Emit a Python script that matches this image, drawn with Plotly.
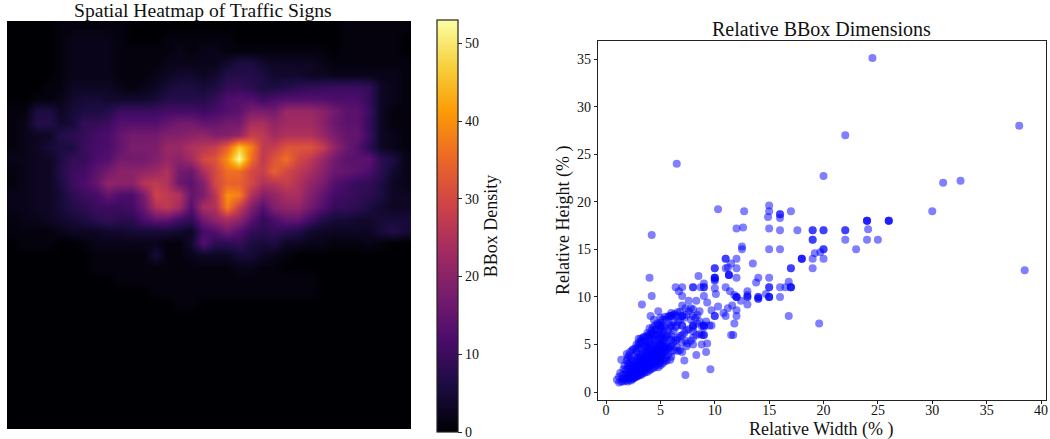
import plotly.graph_objects as go

W, H = 1050, 439
FONT = "Liberation Serif"

heat_rows = [
[0,0,0,0,1,1,1,1,1,1,0,0,0,0,0,0,0,0,0,0,0,0,0,0,0,0,0,0,1,1,1,1,1,1],
[0,0,0,0,1,2,2,2,2,1,0,0,0,1,1,1,1,1,1,0,0,0,0,0,0,0,0,0,1,1,1,1,1,0],
[0,0,0,0,1,2,2,2,2,1,1,1,1,1,2,1,2,2,1,1,1,1,1,1,1,1,1,0,1,1,1,1,1,0],
[0,0,0,0,1,2,2,2,2,1,1,1,1,2,2,2,2,2,4,6,6,4,3,3,3,3,2,1,1,1,1,1,1,1],
[0,0,0,0,1,2,2,2,2,1,1,1,2,3,4,4,3,4,7,7,7,6,4,4,4,3,3,2,2,2,2,2,2,1],
[0,0,0,1,1,3,3,3,3,2,1,2,3,5,6,6,5,6,9,9,8,6,6,7,8,9,9,10,10,10,9,3,2,1],
[0,0,1,1,2,4,5,5,4,4,4,4,5,7,7,7,7,9,12,13,13,10,12,13,13,13,13,12,12,12,9,3,2,1],
[1,1,6,6,3,5,6,6,7,10,10,10,10,11,11,11,10,11,13,14,18,18,17,22,22,22,20,17,14,14,10,3,1,1],
[1,2,7,7,4,5,9,9,10,13,13,13,13,15,17,17,15,15,17,17,24,24,21,23,23,23,20,16,14,14,9,3,1,1],
[1,2,3,3,7,8,9,11,12,15,17,17,17,19,19,20,21,19,19,21,28,27,23,25,25,25,22,18,15,15,10,3,2,1],
[1,2,3,5,6,6,10,11,12,15,18,18,18,22,22,25,26,28,34,46,38,27,28,32,32,32,28,21,16,13,8,3,2,1],
[2,2,3,3,6,9,9,12,13,17,17,17,19,21,20,23,30,32,40,53,36,27,32,36,30,27,22,17,14,14,14,8,6,2],
[1,2,3,3,7,10,11,14,17,20,20,21,22,25,17,16,24,30,36,36,30,28,34,30,27,24,20,16,15,14,12,8,4,2],
[1,2,3,3,6,10,12,15,21,20,20,26,27,25,16,14,19,30,34,34,30,25,26,28,25,21,18,13,11,9,9,6,3,2],
[2,2,3,3,5,8,10,11,15,12,12,18,29,27,25,15,18,26,40,38,25,19,21,24,24,19,15,11,10,9,8,6,3,3],
[2,2,3,3,5,7,8,10,10,10,11,16,25,27,23,13,24,25,38,28,19,13,19,21,21,17,13,9,9,8,6,4,3,3],
[1,2,2,3,4,5,6,8,9,8,8,12,15,15,11,9,17,21,24,21,14,9,12,15,15,11,7,5,5,4,4,5,5,5],
[1,1,1,1,2,3,3,3,4,4,5,5,5,5,4,3,11,13,17,13,9,8,9,8,7,4,3,3,3,3,3,5,7,5],
[0,1,1,1,0,0,1,2,2,2,2,2,2,1,1,4,13,8,8,9,6,5,6,3,3,2,2,1,1,1,2,1,0,0],
[0,0,0,0,0,0,0,1,1,1,1,1,5,1,1,2,3,3,3,5,5,3,2,1,0,0,0,0,0,0,0,0,0,0],
[0,0,0,0,0,0,0,1,1,1,1,1,1,1,1,1,1,1,1,2,2,1,1,0,0,0,0,0,0,0,0,0,0,0],
[0,0,0,0,0,0,0,0,0,1,1,1,1,1,1,1,1,1,1,1,1,1,1,1,1,1,0,0,0,0,0,0,0,0],
[0,0,0,0,0,0,0,0,0,0,0,0,1,1,1,1,1,1,1,1,1,1,1,1,1,1,0,0,0,0,0,0,0,0],
[0,0,0,0,0,0,0,0,0,0,0,0,0,0,1,1,0,0,0,0,0,0,0,0,0,0,0,0,0,0,0,0,0,0],
[0,0,0,0,0,0,0,0,0,0,0,0,0,0,0,0,0,0,0,0,0,0,0,0,0,0,0,0,0,0,0,0,0,0],
[0,0,0,0,0,0,0,0,0,0,0,0,0,0,0,0,0,0,0,0,0,0,0,0,0,0,0,0,0,0,0,0,0,0],
[0,0,0,0,0,0,0,0,0,0,0,0,0,0,0,0,0,0,0,0,0,0,0,0,0,0,0,0,0,0,0,0,0,0],
[0,0,0,0,0,0,0,0,0,0,0,0,0,0,0,0,0,0,0,0,0,0,0,0,0,0,0,0,0,0,0,0,0,0],
[0,0,0,0,0,0,0,0,0,0,0,0,0,0,0,0,0,0,0,0,0,0,0,0,0,0,0,0,0,0,0,0,0,0],
[0,0,0,0,0,0,0,0,0,0,0,0,0,0,0,0,0,0,0,0,0,0,0,0,0,0,0,0,0,0,0,0,0,0],
[0,0,0,0,0,0,0,0,0,0,0,0,0,0,0,0,0,0,0,0,0,0,0,0,0,0,0,0,0,0,0,0,0,0],
[0,0,0,0,0,0,0,0,0,0,0,0,0,0,0,0,0,0,0,0,0,0,0,0,0,0,0,0,0,0,0,0,0,0],
[0,0,0,0,0,0,0,0,0,0,0,0,0,0,0,0,0,0,0,0,0,0,0,0,0,0,0,0,0,0,0,0,0,0],
[0,0,0,0,0,0,0,0,0,0,0,0,0,0,0,0,0,0,0,0,0,0,0,0,0,0,0,0,0,0,0,0,0,0],
]

sparse_points = [
(24.5,35.1),(22,27),(6.5,24),(20,22.7),(38,28),(31,22),(32.6,22.2),(38.5,12.8),(30,19),
(10.3,19.2),(12.7,19),(15,19.6),(15,19),(14.9,18.4),(16,18.7),(16,18.7),(16,18.3),(17,19),
(12,17.2),(12.6,17.3),(15,17.2),(16,17),(17.6,17),(19,17),(19,17),(20,17),(20,17),(22,17),(22,17),
(24,18),(24,18),(24,18),(26,18),(26,18),(26,18),(24.1,17.1),(19,16),(19,16),(22,16),(24,16),(25,16),
(23,15),(20,15),(20,15),(19.2,14.6),(19.7,14.7),(19,14),(20,14),(18,14),(18,14),(18,14),(19,13),(17,13),(17,13),
(15,15),(16,15),(12.5,15.3),(12.5,15),(11,14),(11,14),(12,14),(11.5,13.5),(13.5,13.5),(10,13),(11,13),(11.2,13.1),(12,13),
(11.3,12.3),(11.3,12.3),(11.3,12.3),(10,12),(10,12),(10,11.8),(12,12),(14,12),(15,12),(13.8,11.5),(15,11),(15,11),(16,11),
(16.8,11.6),(17,11),(17,11),(17,11),(16.5,11),(14.7,10.3),(15,10),(15,10),(15,10),(16,10),(14,10),(14,10),(14,9.8),(14,9.8),
(13,10),(13,10),(13,10.2),(13,10.6),(12,10),(12,10),(12,10),(12.4,9.6),(13,9.2),(11,11),(11.4,10.6),(11.8,10.2),(16.8,8),(19.6,7.2),(11.8,7.2),(11.5,6),(11.7,6),
(4.2,16.5),(4,12),(4.2,10.1),(3.3,9.2),(4.8,8.5),(4.1,8),(4.4,7.6),(6.4,11),(7,11),(6.7,10.6),(7,10.1),(8,11),(8,11),(8.5,12.2),
(9,11.4),(9,11),(9,11),(8.7,11),(9,10.1),(10,10.9),(10,12),(10,11.7),(10,13),(10.1,10.3),(8.3,9.6),(7.6,9.6),(7,9.1),(7.8,8.8),(8.6,8.5),
(9.3,9.4),(9.7,8.6),(10.3,9),(10.8,8.3),(11.2,8.8),(11.6,9.1),(12,8.6),(12,8),(11,8),(10,8),(10,8),(9.5,7),(9.7,7),(9.2,7.4),(9,7),(9,7),(8,7),(8,8),
(7.3,1.8),(9.6,2.4),(8.3,3.9),(7.2,3.3),(9.2,4.2),(8.8,5),(9,6),(9,6),(8.6,6.1),(8,6.4),(8,5.7),(7.5,5.1),
]

dense_points = [
(1,1.3),(1.2,1),(1.2,1.6),(1.3,2),(1.4,1.1),(1.4,3.4),(1.5,1.4),(1.5,1.8),(1.6,2.4),(1.6,1.1),(1.7,1.4),(1.7,2.8),
(1.8,1.2),(1.8,1.9),(1.8,2.3),(1.9,1.5),(1.9,3.3),(2,1.1),(2,1.6),(2,2),(2,2.5),(2,3),(2,3.6),(2.1,1.3),(2.1,1.8),(2.1,2.7),
(2.2,1.5),(2.2,2.2),(2.2,3.1),(2.3,1.2),(2.3,1.9),(2.3,2.6),(2.3,3.5),(2.4,1.6),(2.4,2.1),(2.4,2.9),(2.4,4.4),(2.5,1.4),(2.5,1.8),(2.5,2.4),(2.5,3.3),
(2.6,1.7),(2.6,2.2),(2.6,2.8),(2.6,3.8),(2.7,1.6),(2.7,2),(2.7,2.6),(2.7,3.2),(2.8,1.9),(2.8,2.4),(2.8,3),(2.8,4.2),(2.8,5),
(2.9,1.7),(2.9,2.2),(2.9,2.8),(2.9,3.6),(3,1.9),(3,2.3),(3,2.7),(3,3.2),(3,3.8),(3,4.6),(3,5.6),(3.1,2),(3.1,2.5),(3.1,3),(3.1,3.5),
(3.2,2.1),(3.2,2.8),(3.2,3.3),(3.2,4),(3.2,5.1),(3.3,2.3),(3.3,2.7),(3.3,3.1),(3.3,3.7),(3.3,4.5),(3.4,2.2),(3.4,2.9),(3.4,3.4),(3.4,4.1),(3.4,5.7),
(3.5,2.4),(3.5,2.8),(3.5,3.2),(3.5,3.7),(3.5,4.8),(3.6,2.5),(3.6,3),(3.6,3.5),(3.6,4.3),(3.6,5.3),(3.7,2.6),(3.7,3.1),(3.7,3.6),(3.7,4.1),(3.7,4.9),
(3.8,2.5),(3.8,2.9),(3.8,3.4),(3.8,3.9),(3.8,4.6),(3.8,6.2),(3.9,2.8),(3.9,3.2),(3.9,3.7),(3.9,4.3),(3.9,5.2),(4,2.7),(4,3),(4,3.5),(4,4),(4,4.5),(4,5),(4,5.7),(4,6.7),
(4.1,2.9),(4.1,3.3),(4.1,3.8),(4.1,4.3),(4.1,5.4),(4.2,3),(4.2,3.5),(4.2,4),(4.2,4.7),(4.2,6.2),(4.3,3.1),(4.3,3.6),(4.3,4.2),(4.3,5),(4.3,5.9),
(4.4,3),(4.4,3.4),(4.4,3.9),(4.4,4.5),(4.4,5.5),(4.5,3.2),(4.5,3.7),(4.5,4.2),(4.5,4.8),(4.5,6.5),(4.6,3.3),(4.6,3.8),(4.6,4.4),(4.6,5.2),(4.6,6),
(4.7,3.4),(4.7,4),(4.7,4.6),(4.7,5.5),(4.8,3.5),(4.8,4.1),(4.8,4.8),(4.8,5.8),(4.8,7.1),(4.9,3.7),(4.9,4.3),(4.9,5),(4.9,6.3),
(5,3.6),(5,4),(5,4.5),(5,5),(5,5.5),(5,6),(5,6.6),(5,7.3),(5,7.8),(5.1,3.8),(5.1,4.3),(5.1,4.9),(5.1,5.7),(5.2,3.9),(5.2,4.5),(5.2,5.2),(5.2,6.1),(5.2,7),
(5.3,4.1),(5.3,4.7),(5.3,5.4),(5.3,6.4),(5.4,4.2),(5.4,4.8),(5.4,5.6),(5.4,6.8),(5.5,4.4),(5.5,5),(5.5,5.8),(5.5,7.6),(5.6,4.5),(5.6,6),
(5.7,4.7),(5.7,6.5),(5.8,4.6),(5.8,5.7),(5.8,7.2),(5.9,4.9),(5.9,6.8),(6,4.8),(6,5.5),(6,6),(6,7),(6,8),(6,8),
(6.2,5.2),(6.2,6.4),(6.2,7.3),(6.3,8.2),(6.4,5.4),(6.4,6.8),(6.5,5.5),(6.5,7),(6.6,5.7),(6.6,7.4),(6.6,8.4),
(6.8,5.9),(6.8,7.6),(7,6),(7,7),(7,7),(7,8),(7,8),(7.2,6.2),(7.2,7.8),(7.4,6.5),(7.4,8.1),
(7.6,6.6),(7.8,7.6),(8,6.8),(8,7),(8.2,7.8),(8.4,7.2),(8.4,8.1),(8.6,7.4),(8.8,6.9),(9,6.8),
]

lower_edge_points = [
(2.4,1.4),(2.6,1.5),(2.8,1.6),(3,1.7),(3.2,1.8),(3.3,1.9),(3.5,2),(3.6,2.1),(3.8,2.1),(4,2.3),(4.1,2.4),(4.3,2.5),(4.5,2.6),(4.6,2.8),(4.8,2.6),(4.9,3),
(5,2.8),(5,3.2),(5.2,3),(5.3,3.4),(5.4,3.2),(5.5,3.6),(5.6,3.3),(5.7,3.9),(5.9,3.4),(6,3.7),(6,4.2),(6.3,4.4),(6.5,4.7),(6.6,4.3),(6.8,4.4),(7,4.2),(7,5.2),
(7.3,5.4),(7.4,4.8),(7.8,5.4),(8,5),(8.3,6),(8.8,6),(9.3,5.1),
]

upper_edge_points = [
(1.9,4),(2.1,3.8),(2.2,4.2),(2.5,4.5),(2.7,4.6),(3,4.9),(3,5.2),(3.2,5.6),(3.3,5.4),(3.5,5.8),(3.6,5.1),(3.7,5.8),(3.9,6),(4,6),(4.2,6.5),(4.3,6.8),(4.4,6.1),(4.5,7),(4.6,6.6),(4.7,7.2),(5,7),(5.1,6.8),
(5.2,7.6),(5.4,7.9),(5.7,7.9),(5.8,8),(6,8.3),(6.2,8.1),(6.5,8),(6.8,8.4),(7.3,8.8),(7.6,8.5),(8,8.7),
]

all_points = sparse_points + dense_points + lower_edge_points + upper_edge_points
bbox_width = [p[0] for p in all_points]
bbox_height = [p[1] for p in all_points]

x_ticks = [0, 5, 10, 15, 20, 25, 30, 35, 40]
y_ticks = [0, 5, 10, 15, 20, 25, 30, 35]
cbar_ticks = [0, 10, 20, 30, 40, 50]

fig = go.Figure()
fig.add_trace(go.Heatmap(
    z=heat_rows, colorscale="Inferno", zmin=0, zmax=53, zsmooth="best",
    xaxis="x", yaxis="y", hoverinfo="skip",
    colorbar=dict(
        x=437/W, xanchor="left", xpad=0, y=1-432/H, yanchor="bottom", ypad=0,
        len=412/H, lenmode="fraction", thickness=21, thicknessmode="pixels",
        outlinecolor="#222", outlinewidth=1.2,
        tickvals=cbar_ticks, ticks="outside", ticklen=4, tickcolor="#222", ticklabeloverflow="allow",
        tickfont=dict(family=FONT, size=14, color="#111"),
        title=dict(text="BBox Density", side="right", font=dict(family=FONT, size=18, color="#111")),
    ),
))
fig.add_trace(go.Scatter(
    x=bbox_width, y=bbox_height, mode="markers",
    xaxis="x2", yaxis="y2",
    marker=dict(color="blue", opacity=0.5, size=8, line=dict(width=0)),
))

axis_font = dict(family=FONT, size=14, color="#111")
fig.update_layout(
    width=W, height=H, margin=dict(l=0, r=0, t=0, b=0, autoexpand=False), autosize=False,
    paper_bgcolor="white", plot_bgcolor="white", showlegend=False,
    font=dict(family=FONT, color="#111"),
    xaxis=dict(domain=[7/W, 411/W], visible=False, automargin=False),
    yaxis=dict(domain=[1-429/H, 1-21/H], visible=False, autorange="reversed", automargin=False),
    xaxis2=dict(domain=[598/W, 1046/W], anchor="y2", range=[-0.74, 40.46], automargin=False,
                tickvals=x_ticks, ticks="outside", ticklen=3, tickcolor="#222", tickfont=axis_font,
                ticklabelstandoff=-6,
                showgrid=False, zeroline=False, showline=True, linecolor="#222", linewidth=1.2, mirror=True),
    yaxis2=dict(domain=[1-400/H, 1-41/H], anchor="x2", range=[-0.84, 36.9], automargin=False,
                tickvals=y_ticks, ticks="outside", ticklen=3, tickcolor="#222", tickfont=axis_font,
                showgrid=False, zeroline=False, showline=True, linecolor="#222", linewidth=1.2, mirror=True),
    annotations=[
        dict(text="Spatial Heatmap of Traffic Signs", x=203/W, y=1-11/H, xref="paper", yref="paper",
             xanchor="center", yanchor="middle", showarrow=False, font=dict(family=FONT, size=19.6, color="#111")),
        dict(text="Relative BBox Dimensions", x=821.5/W, y=1-29/H, xref="paper", yref="paper",
             xanchor="center", yanchor="middle", showarrow=False, font=dict(family=FONT, size=20, color="#111")),
        dict(text="Relative Width (% )", x=821/W, y=1-429/H, xref="paper", yref="paper",
             xanchor="center", yanchor="middle", showarrow=False, font=dict(family=FONT, size=18, color="#111")),
        dict(text="Relative Height (% )", x=563/W, y=1-221/H, xref="paper", yref="paper", textangle=-90,
             xanchor="center", yanchor="middle", showarrow=False, font=dict(family=FONT, size=18, color="#111")),
    ],
)
fig.write_html("out.html", config={"displayModeBar": False}, post_script="document.body.style.margin='0';")
